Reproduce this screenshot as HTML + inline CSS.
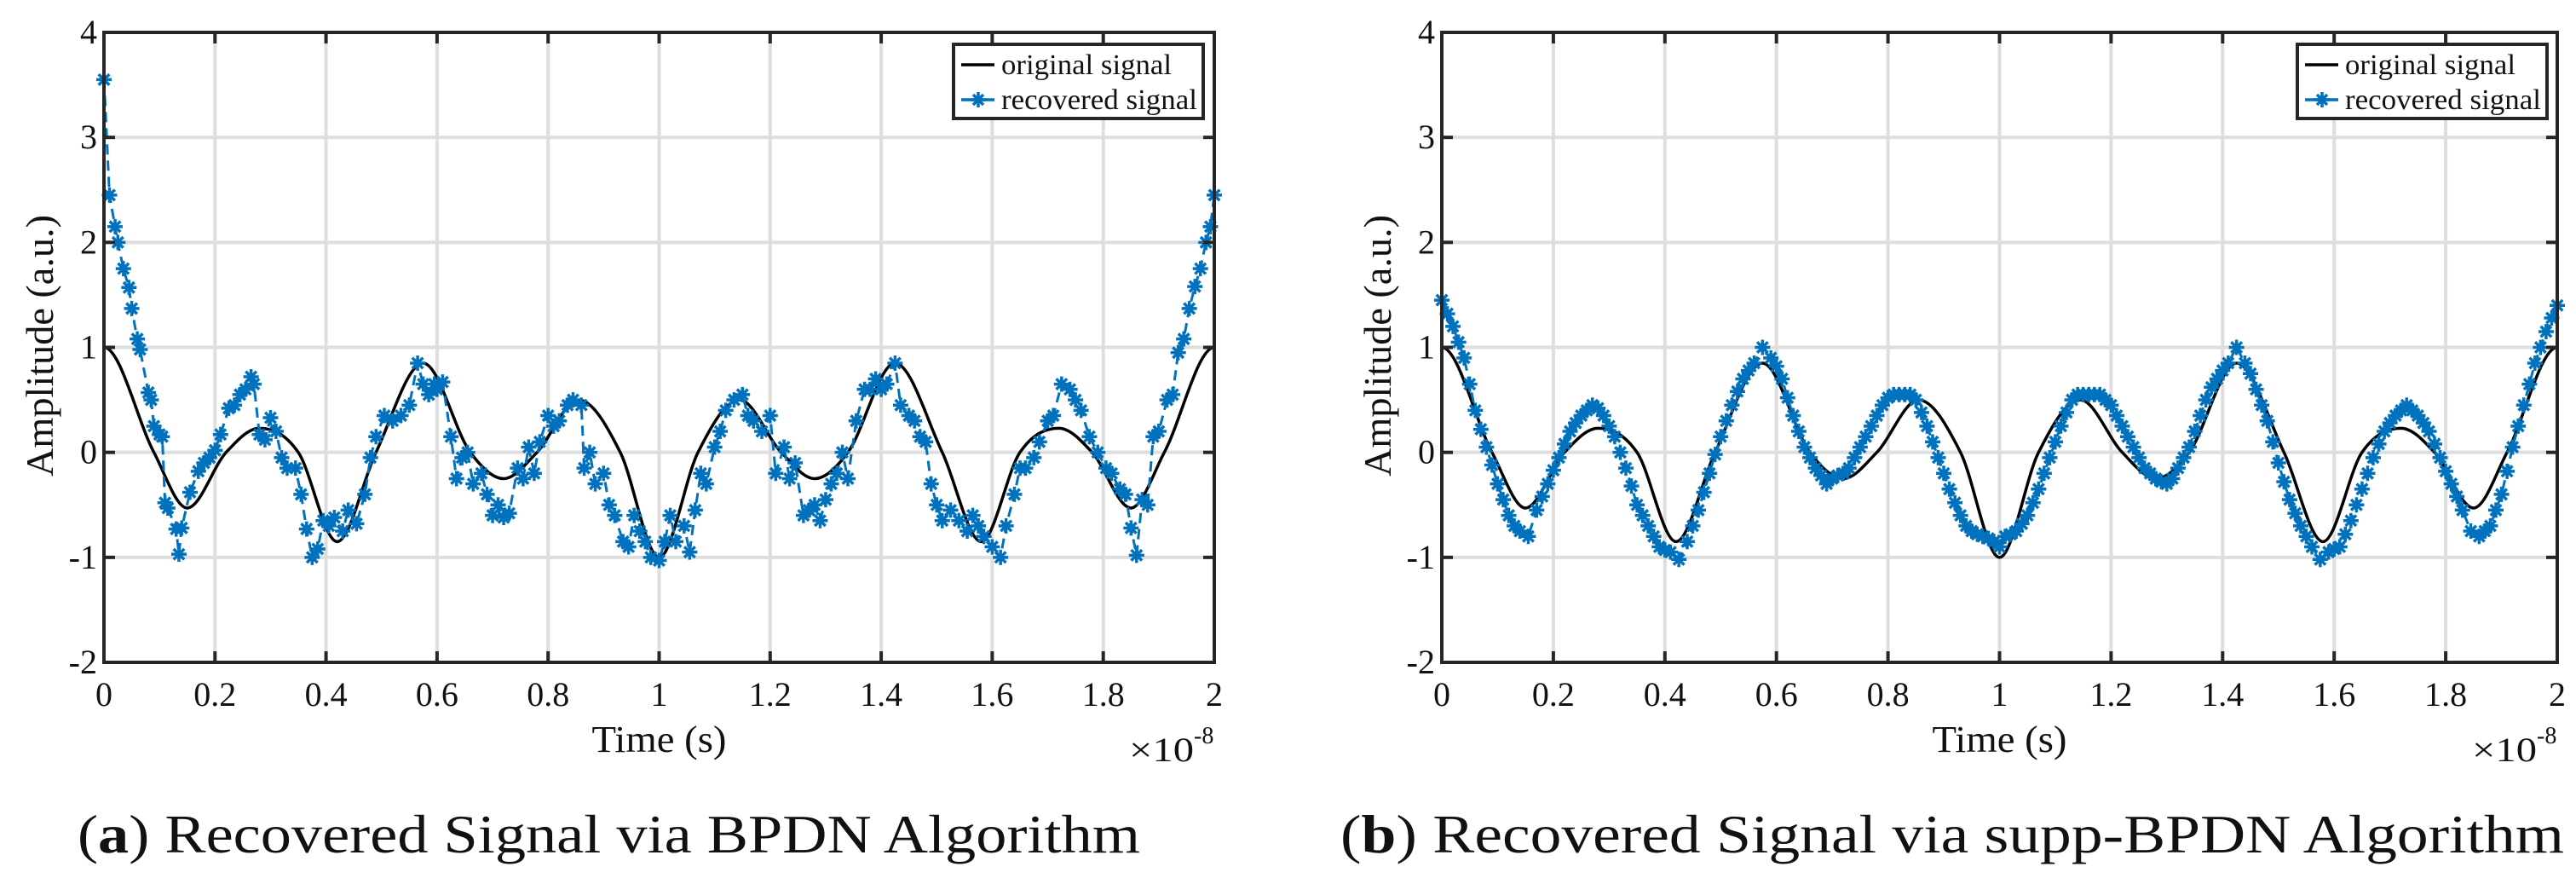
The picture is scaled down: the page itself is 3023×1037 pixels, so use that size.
<!DOCTYPE html>
<html><head><meta charset="utf-8"><style>
html,body{margin:0;padding:0;background:#fff;}
svg{display:block;}
text{font-family:"Liberation Serif",serif;fill:#111;}
</style></head><body>
<svg id="fig" width="3023" height="1037" viewBox="0 0 3023 1037" xmlns="http://www.w3.org/2000/svg"></svg>
<script>
const xTicks = [0,0.2,0.4,0.6,0.8,1,1.2,1.4,1.6,1.8,2];
const xTickLabels = ["0","0.2","0.4","0.6","0.8","1","1.2","1.4","1.6","1.8","2"];
const yTicks = [-2,-1,0,1,2,3,4];
const yTickLabels = ["-2","-1","0","1","2","3","4"];
const origT = [0,0.09,0.15,0.22,0.28,0.35,0.42,0.49,0.575,0.66,0.72,0.78,0.855,0.93,1,1.07,1.145,1.22,1.28,1.34,1.425,1.51,1.58,1.65,1.72,1.78,1.85,1.91,2];
const origV = [1,0,-0.53,0,0.23,0,-0.85,0,0.85,0,-0.25,0,0.5,0,-1,0,0.5,0,-0.25,0,0.85,0,-0.85,0,0.23,0,-0.53,0,1];
const bpdnT = [0,0.01,0.02,0.025,0.035,0.045,0.05,0.06,0.065,0.08,0.085,0.09,0.1,0.105,0.11,0.115,0.13,0.135,0.14,0.155,0.17,0.18,0.19,0.2,0.21,0.225,0.235,0.245,0.255,0.265,0.27,0.28,0.29,0.3,0.31,0.32,0.33,0.345,0.355,0.365,0.375,0.385,0.395,0.405,0.415,0.43,0.44,0.455,0.47,0.48,0.49,0.505,0.52,0.535,0.55,0.565,0.575,0.585,0.595,0.6,0.61,0.625,0.635,0.645,0.655,0.665,0.68,0.69,0.7,0.71,0.72,0.73,0.745,0.755,0.765,0.775,0.785,0.8,0.81,0.82,0.835,0.845,0.86,0.865,0.875,0.885,0.9,0.91,0.92,0.935,0.945,0.955,0.965,0.975,0.985,1.0,1.01,1.02,1.03,1.045,1.055,1.065,1.075,1.085,1.1,1.11,1.12,1.135,1.15,1.16,1.17,1.185,1.2,1.21,1.225,1.235,1.245,1.26,1.27,1.28,1.29,1.3,1.31,1.32,1.33,1.34,1.355,1.37,1.38,1.39,1.4,1.41,1.425,1.435,1.45,1.46,1.47,1.48,1.49,1.5,1.51,1.525,1.54,1.555,1.565,1.575,1.585,1.6,1.615,1.625,1.64,1.65,1.66,1.675,1.685,1.7,1.71,1.725,1.74,1.75,1.76,1.775,1.79,1.805,1.815,1.83,1.84,1.85,1.86,1.87,1.88,1.89,1.9,1.915,1.925,1.935,1.945,1.955,1.965,1.975,1.985,1.993,2.0];
const bpdnV = [3.55,2.45,2.15,2.0,1.75,1.57,1.37,1.08,0.98,0.57,0.5,0.25,0.17,0.15,-0.48,-0.53,-0.73,-0.97,-0.72,-0.38,-0.18,-0.1,-0.05,0.02,0.17,0.42,0.45,0.55,0.6,0.72,0.65,0.17,0.12,0.33,0.2,-0.05,-0.15,-0.15,-0.4,-0.73,-1.0,-0.92,-0.65,-0.7,-0.62,-0.75,-0.55,-0.68,-0.4,-0.05,0.15,0.35,0.3,0.35,0.45,0.85,0.65,0.55,0.65,0.6,0.67,0.15,-0.25,-0.05,0.0,-0.3,-0.2,-0.4,-0.6,-0.5,-0.62,-0.58,-0.15,-0.25,0.05,-0.2,0.1,0.35,0.25,0.3,0.45,0.5,0.45,-0.15,0.0,-0.3,-0.2,-0.5,-0.6,-0.85,-0.9,-0.6,-0.75,-0.85,-1.0,-1.03,-0.85,-0.6,-0.85,-0.7,-0.95,-0.55,-0.2,-0.3,0.05,0.2,0.4,0.5,0.55,0.35,0.3,0.2,0.35,-0.2,0.05,-0.25,-0.1,-0.6,-0.55,-0.5,-0.65,-0.45,-0.3,-0.2,0.0,-0.25,0.3,0.6,0.6,0.7,0.6,0.65,0.85,0.45,0.35,0.3,0.15,0.1,-0.3,-0.5,-0.65,-0.55,-0.65,-0.75,-0.6,-0.7,-0.8,-0.9,-1.0,-0.7,-0.4,-0.15,-0.15,-0.05,0.1,0.3,0.35,0.65,0.6,0.5,0.4,0.15,0.0,-0.15,-0.2,-0.35,-0.4,-0.72,-0.98,-0.45,-0.5,0.15,0.2,0.5,0.55,0.95,1.08,1.37,1.58,1.75,2.0,2.15,2.45];
const suppT = [0,0.01,0.02,0.03,0.04,0.05,0.06,0.07,0.08,0.09,0.1,0.11,0.12,0.13,0.14,0.155,0.17,0.18,0.19,0.2,0.21,0.22,0.23,0.24,0.25,0.26,0.27,0.28,0.29,0.3,0.31,0.32,0.33,0.34,0.35,0.36,0.37,0.38,0.39,0.4,0.41,0.425,0.44,0.45,0.46,0.47,0.48,0.49,0.5,0.51,0.52,0.53,0.54,0.55,0.56,0.575,0.59,0.6,0.61,0.62,0.63,0.64,0.65,0.66,0.67,0.68,0.69,0.7,0.71,0.72,0.73,0.74,0.75,0.76,0.77,0.78,0.79,0.8,0.81,0.82,0.83,0.84,0.85,0.86,0.87,0.88,0.89,0.9,0.91,0.92,0.93,0.94,0.95,0.96,0.97,0.98,0.99,1.0,1.01,1.02,1.03,1.04,1.05,1.06,1.07,1.08,1.09,1.1,1.11,1.12,1.13,1.14,1.15,1.16,1.17,1.18,1.19,1.2,1.21,1.22,1.23,1.24,1.25,1.26,1.27,1.28,1.29,1.3,1.31,1.32,1.33,1.34,1.35,1.36,1.37,1.38,1.39,1.4,1.41,1.425,1.44,1.45,1.46,1.47,1.48,1.49,1.5,1.51,1.52,1.53,1.54,1.55,1.56,1.575,1.59,1.6,1.61,1.62,1.63,1.64,1.65,1.66,1.67,1.68,1.69,1.7,1.71,1.72,1.73,1.74,1.75,1.76,1.77,1.78,1.79,1.8,1.81,1.82,1.83,1.845,1.86,1.87,1.88,1.89,1.9,1.91,1.92,1.93,1.94,1.95,1.96,1.97,1.98,1.99,2.0];
const suppV = [1.45,1.32,1.2,1.05,0.9,0.65,0.4,0.22,0.05,-0.12,-0.3,-0.45,-0.6,-0.7,-0.75,-0.8,-0.55,-0.42,-0.3,-0.17,-0.05,0.08,0.2,0.28,0.35,0.4,0.45,0.42,0.35,0.25,0.15,0.0,-0.15,-0.32,-0.5,-0.6,-0.7,-0.8,-0.9,-0.93,-0.95,-1.02,-0.85,-0.7,-0.55,-0.38,-0.2,-0.02,0.15,0.3,0.45,0.58,0.7,0.78,0.85,1.0,0.9,0.82,0.7,0.52,0.35,0.2,0.05,-0.05,-0.15,-0.22,-0.3,-0.25,-0.22,-0.2,-0.15,-0.05,0.05,0.15,0.25,0.35,0.45,0.52,0.55,0.55,0.55,0.55,0.5,0.38,0.25,0.1,-0.05,-0.2,-0.35,-0.48,-0.6,-0.7,-0.75,-0.78,-0.8,-0.82,-0.85,-0.9,-0.8,-0.78,-0.75,-0.68,-0.6,-0.48,-0.35,-0.2,-0.05,0.1,0.25,0.38,0.5,0.55,0.55,0.55,0.55,0.55,0.5,0.45,0.35,0.25,0.15,0.05,-0.05,-0.15,-0.2,-0.25,-0.28,-0.3,-0.25,-0.15,-0.05,0.05,0.2,0.35,0.5,0.62,0.7,0.78,0.85,1.0,0.85,0.75,0.6,0.45,0.3,0.1,-0.1,-0.28,-0.45,-0.58,-0.7,-0.8,-0.9,-1.02,-0.95,-0.92,-0.9,-0.78,-0.65,-0.5,-0.35,-0.2,-0.05,0.08,0.2,0.28,0.35,0.4,0.45,0.4,0.35,0.28,0.2,0.08,-0.05,-0.18,-0.3,-0.42,-0.55,-0.75,-0.8,-0.75,-0.7,-0.55,-0.4,-0.18,0.05,0.25,0.45,0.65,0.85,1.0,1.15,1.28,1.4];

const NS = "http://www.w3.org/2000/svg";
const svg = document.getElementById('fig');
function mk(tag, attrs, parent){ const e=document.createElementNS(NS,tag); for(const k in attrs) e.setAttribute(k,attrs[k]); (parent||svg).appendChild(e); return e; }

function monoPath(xs, ys){
  const n=xs.length, d=[], m=new Array(n);
  for(let i=0;i<n-1;i++) d.push((ys[i+1]-ys[i])/(xs[i+1]-xs[i]));
  m[0]=0; m[n-1]=0;
  for(let i=1;i<n-1;i++){ m[i]=(d[i-1]*d[i]<=0)?0:(d[i-1]+d[i])/2; }
  let p="M"+xs[0]+","+ys[0];
  for(let i=0;i<n-1;i++){ const h=xs[i+1]-xs[i];
    p+=" C"+(xs[i]+h/3)+","+(ys[i]+m[i]*h/3)+" "+(xs[i+1]-h/3)+","+(ys[i+1]-m[i+1]*h/3)+" "+xs[i+1]+","+ys[i+1]; }
  return p;
}

function panel(P){
  const g = mk('g',{});
  
  
  const X = v => P.x0 + (v-0)/(2-0)*(P.x1-P.x0);
  const Y = v => P.y1 - (v-(-2))/(4-(-2))*(P.y1-P.y0);
  xTicks.forEach((t,i)=>{ const l=mk('line',{x1:X(t),x2:X(t),y1:P.y0,y2:P.y1,stroke:'#dedede','stroke-width':4},g);
      });
  yTicks.forEach((t,i)=>{ const l=mk('line',{x1:P.x0,x2:P.x1,y1:Y(t),y2:Y(t),stroke:'#dedede','stroke-width':4},g);
      });
  const clipId = P.name+'-clip';
  const cp = mk('clipPath',{id:clipId},g); mk('rect',{x:P.x0,y:P.y0,width:P.x1-P.x0,height:P.y1-P.y0},cp);
  const orig = mk('path',{d:monoPath(origT.map(X), origV.map(Y)),fill:'none',stroke:'#000','stroke-width':3.5,'clip-path':'url(#'+clipId+')'},g);
   
  const rt=P.rt, rv=P.rv;
  let pts=rt.map((t,i)=>X(t)+","+Y(rv[i])).join(" ");
  const rl = mk('polyline',{points:pts,fill:'none',stroke:'#0072BD','stroke-width':3,'stroke-dasharray':'12,7'},g);
   
  const r=9;
  rt.forEach((t,i)=>{ const cx=X(t), cy=Y(rv[i]);
    const s=mk('path',{d:`M${cx-r},${cy}H${cx+r}M${cx},${cy-r}V${cy+r}M${cx-r*0.7},${cy-r*0.7}L${cx+r*0.7},${cy+r*0.7}M${cx-r*0.7},${cy+r*0.7}L${cx+r*0.7},${cy-r*0.7}`,stroke:'#0072BD','stroke-width':3.5,fill:'none'},g);
      });
  const fr=mk('rect',{x:P.x0,y:P.y0,width:P.x1-P.x0,height:P.y1-P.y0,fill:'none',stroke:'#262626','stroke-width':4},g);
   
  xTicks.forEach((t,i)=>{ mk('line',{x1:X(t),x2:X(t),y1:P.y1,y2:P.y1-13,stroke:'#262626','stroke-width':4},g);
    mk('line',{x1:X(t),x2:X(t),y1:P.y0,y2:P.y0+13,stroke:'#262626','stroke-width':4},g);
    const tx=mk('text',{x:X(t),y:828,'text-anchor':'middle','font-size':40},g); tx.textContent=xTickLabels[i];
      });
  yTicks.forEach((t,i)=>{ mk('line',{x1:P.x0,x2:P.x0+13,y1:Y(t),y2:Y(t),stroke:'#262626','stroke-width':4},g);
    mk('line',{x1:P.x1,x2:P.x1-13,y1:Y(t),y2:Y(t),stroke:'#262626','stroke-width':4},g);
    const tx=mk('text',{x:P.x0-8,y:Y(t)+13,'text-anchor':'end','font-size':40},g); tx.textContent=yTickLabels[i];
      });
  const xl=mk('text',{x:(P.x0+P.x1)/2,y:882,'text-anchor':'middle','font-size':44,textLength:158,lengthAdjust:'spacingAndGlyphs'},g); xl.textContent='Time (s)';
   
  const ex=mk('text',{x:P.x1-100,y:893,'font-size':40,textLength:76,lengthAdjust:'spacingAndGlyphs'},g); ex.textContent='×10';
   
  const ex2=mk('text',{x:P.x1-24,y:872,'font-size':28},g); ex2.textContent='-8';
   
  const yl=mk('text',{x:0,y:0,'text-anchor':'middle','font-size':46,textLength:307,lengthAdjust:'spacingAndGlyphs',transform:`translate(${P.ylx},${(P.y0+P.y1)/2-2}) rotate(-90)`},g); yl.textContent='Amplitude (a.u.)';
   
  const lg=mk('g',{},g);  
  mk('rect',{x:P.lx,y:52,width:293,height:87,fill:'#fff',stroke:'#262626','stroke-width':4},lg);
  mk('line',{x1:P.lx+9,x2:P.lx+48,y1:76,y2:76,stroke:'#000','stroke-width':3.5},lg);
  const t1=mk('text',{x:P.lx+56,y:87,'font-size':34,textLength:200,lengthAdjust:'spacingAndGlyphs'},lg); t1.textContent='original signal';
   
  mk('line',{x1:P.lx+9,x2:P.lx+48,y1:117,y2:117,stroke:'#0072BD','stroke-width':3.5},lg);
  const c=P.lx+29, cy=117;
  mk('path',{d:`M${c-9},${cy}H${c+9}M${c},${cy-9}V${cy+9}M${c-6},${cy-6}L${c+6},${cy+6}M${c-6},${cy+6}L${c+6},${cy-6}`,stroke:'#0072BD','stroke-width':3.5},lg);
  const t2=mk('text',{x:P.lx+56,y:128,'font-size':34,textLength:230,lengthAdjust:'spacingAndGlyphs'},lg); t2.textContent='recovered signal';
   
  const cap=mk('text',{x:P.capx,y:1000,'font-size':64,textLength:P.capw,lengthAdjust:'spacingAndGlyphs'},g);
  const b=document.createElementNS(NS,'tspan'); b.textContent='('; cap.appendChild(b);
  const b2=document.createElementNS(NS,'tspan'); b2.setAttribute('font-weight','bold'); b2.textContent=P.letter; cap.appendChild(b2);
  const b3=document.createElementNS(NS,'tspan'); b3.textContent=') '+P.caption; cap.appendChild(b3);
   
}

panel({name:'panel-bpdn',x0:122,x1:1425,y0:38,y1:777,ylx:62,lx:1119,rt:bpdnT,rv:bpdnV,capx:91,capw:1247,letter:'a',caption:'Recovered Signal via BPDN Algorithm'});
panel({name:'panel-supp-bpdn',x0:1692,x1:3001,y0:38,y1:777,ylx:1632,lx:2696,rt:suppT,rv:suppV,capx:1573,capw:1436,letter:'b',caption:'Recovered Signal via supp-BPDN Algorithm'});
</script>
</body></html>
